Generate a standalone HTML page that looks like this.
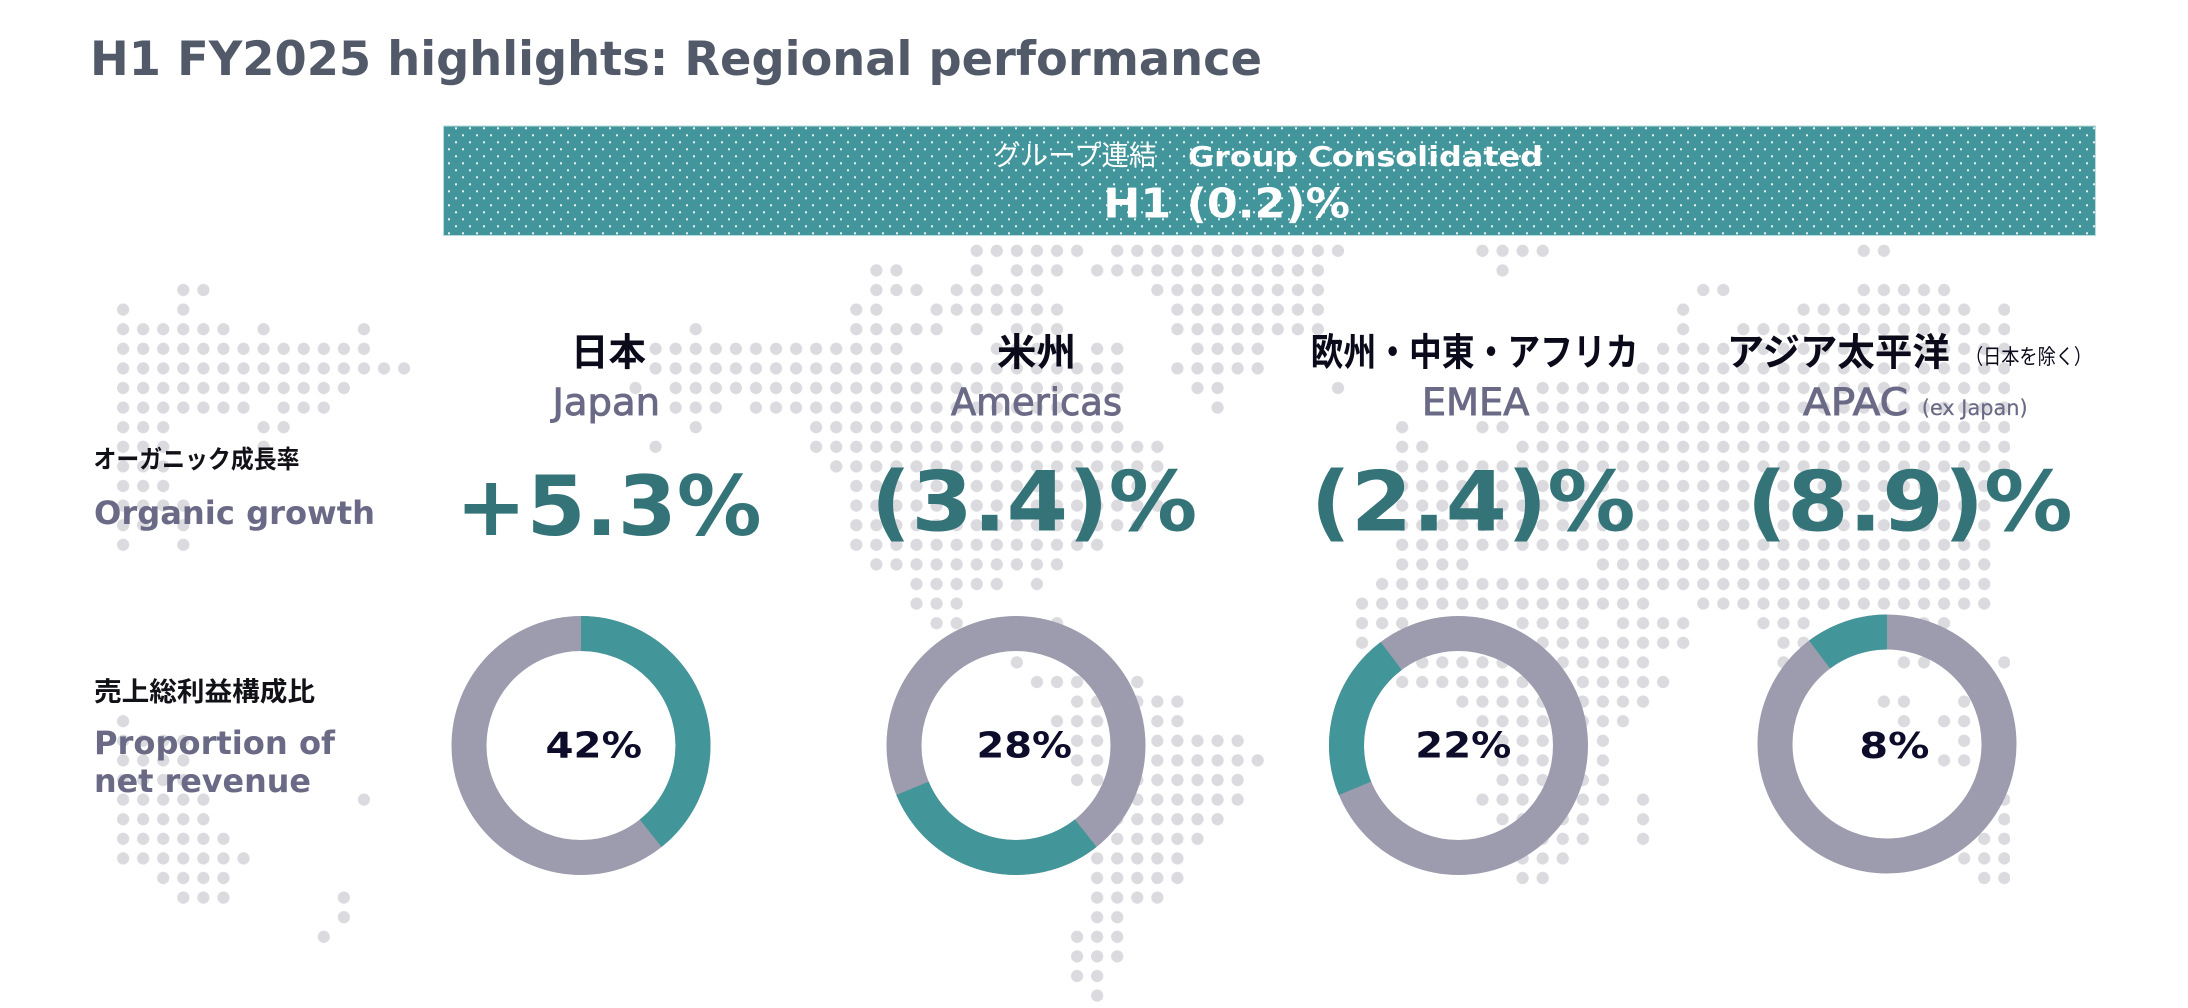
<!DOCTYPE html>
<html>
<head>
<meta charset="utf-8">
<style>
html,body{margin:0;padding:0;background:#ffffff;}
svg{display:block;}
.en{font-family:"DejaVu Sans","Liberation Sans",sans-serif;}
.jp{font-family:"Liberation Sans","Noto Sans CJK JP",sans-serif;}
</style>
</head>
<body>
<svg width="2188" height="1008" viewBox="0 0 2188 1008" xmlns="http://www.w3.org/2000/svg">
<defs>
  <pattern id="dp" patternUnits="userSpaceOnUse" x="-0.5" y="-0.5" width="1" height="1">
    <ellipse cx="0.5" cy="0.5" rx="0.304" ry="0.311" fill="#dadadf"/>
  </pattern>
  <pattern id="bp" patternUnits="userSpaceOnUse" x="455" y="127.3" width="14" height="14">
    <rect x="0" y="0" width="2" height="2" fill="#e8f2f2"/>
    <rect x="7" y="7" width="2" height="2" fill="#e8f2f2"/>
  </pattern>
  <clipPath id="mapclip"><rect x="107.6" y="0" width="1902.4" height="1008"/></clipPath>
</defs>

<rect width="2188" height="1008" fill="#ffffff"/>

<!-- dotted world map -->
<g clip-path="url(#mapclip)">
  <g transform="translate(123.1,290) scale(20.07,19.6)">
    <path fill="url(#dp)" d="M2.5 -0.5h2v1h-2z
M-0.5 0.5h1v1h-1z M2.5 0.5h1v1h-1z
M-0.5 1.5h6v1h-6z M6.5 1.5h1v1h-1z M11.5 1.5h1v1h-1z
M-0.5 2.5h13v1h-13z
M-0.5 3.5h15v1h-15z
M-0.5 4.5h12v1h-12z
M-0.5 5.5h7v1h-7z M7.5 5.5h3v1h-3z
M-0.5 6.5h3v1h-3z M6.5 6.5h2v1h-2z
M-0.5 7.5h3v1h-3z M6.5 7.5h1v1h-1z
M-0.5 8.5h3v1h-3z
M-0.5 9.5h3v1h-3z
M-0.5 10.5h4v1h-4z
M-0.5 11.5h2v1h-2z M2.5 11.5h1v1h-1z
M-0.5 12.5h1v1h-1z M2.5 12.5h1v1h-1z
M-0.5 21.5h1v1h-1z
M-0.5 22.5h4v1h-4z
M-0.5 23.5h4v1h-4z
M-0.5 24.5h4v1h-4z
M-0.5 25.5h5v1h-5z M11.5 25.5h1v1h-1z
M-0.5 26.5h5v1h-5z
M-0.5 27.5h6v1h-6z
M-0.5 28.5h7v1h-7z
M1.5 29.5h4v1h-4z
M2.5 30.5h3v1h-3z M10.5 30.5h1v1h-1z
M10.5 31.5h1v1h-1z
M9.5 32.5h1v1h-1z"/>
  </g>
  <g transform="translate(655.6,290) scale(20.07,19.6)">
    <path fill="url(#dp)" d="M15.5 -2.5h6v1h-6z M22.5 -2.5h12v1h-12z
M10.5 -1.5h2v1h-2z M15.5 -1.5h1v1h-1z M17.5 -1.5h3v1h-3z M21.5 -1.5h12v1h-12z
M10.5 -0.5h3v1h-3z M14.5 -0.5h5v1h-5z M24.5 -0.5h9v1h-9z
M9.5 0.5h2v1h-2z M13.5 0.5h7v1h-7z M25.5 0.5h8v1h-8z
M1.5 1.5h1v1h-1z M9.5 1.5h5v1h-5z M15.5 1.5h1v1h-1z M17.5 1.5h3v1h-3z M25.5 1.5h8v1h-8z
M-0.5 2.5h13v1h-13z M16.5 2.5h4v1h-4z M21.5 2.5h2v1h-2z M26.5 2.5h4v1h-4z
M-0.5 3.5h24v1h-24z M25.5 3.5h5v1h-5z
M-1.5 4.5h1v1h-1z M0.5 4.5h23v1h-23z M26.5 4.5h2v1h-2z M33.5 4.5h1v1h-1z
M0.5 5.5h3v1h-3z M4.5 5.5h16v1h-16z M27.5 5.5h1v1h-1z
M1.5 6.5h1v1h-1z M7.5 6.5h16v1h-16z
M-0.5 7.5h1v1h-1z M7.5 7.5h18v1h-18z
M8.5 8.5h17v1h-17z
M9.5 9.5h16v1h-16z
M9.5 10.5h16v1h-16z
M9.5 11.5h15v1h-15z
M9.5 12.5h13v1h-13z
M10.5 13.5h10v1h-10z
M12.5 14.5h5v1h-5z M18.5 14.5h1v1h-1z
M12.5 15.5h3v1h-3z
M13.5 16.5h2v1h-2z M19.5 16.5h1v1h-1z
M17.5 18.5h1v1h-1z
M18.5 19.5h6v1h-6z
M20.5 20.5h6v1h-6z
M19.5 21.5h7v1h-7z
M20.5 22.5h9v1h-9z
M20.5 23.5h10v1h-10z
M20.5 24.5h9v1h-9z
M22.5 25.5h7v1h-7z
M22.5 26.5h6v1h-6z
M21.5 27.5h6v1h-6z
M21.5 28.5h5v1h-5z
M21.5 29.5h5v1h-5z
M21.5 30.5h4v1h-4z
M21.5 31.5h2v1h-2z
M20.5 32.5h3v1h-3z
M20.5 33.5h3v1h-3z
M20.5 34.5h2v1h-2z
M21.5 35.5h1v1h-1z"/>
  </g>
  <g transform="translate(659.6,290) scale(20.07,19.6)">
    <path fill="url(#dp)" d="M40.5 -2.5h4v1h-4z M59.5 -2.5h2v1h-2z
M41.5 -1.5h1v1h-1z
M51.5 -0.5h2v1h-2z M59.5 -0.5h5v1h-5z
M50.5 0.5h1v1h-1z M56.5 0.5h9v1h-9z M66.5 0.5h1v1h-1z
M50.5 1.5h1v1h-1z M53.5 1.5h14v1h-14z
M49.5 2.5h18v1h-18z
M48.5 3.5h19v1h-19z
M43.5 4.5h24v1h-24z
M43.5 5.5h24v1h-24z
M36.5 6.5h1v1h-1z M40.5 6.5h2v1h-2z M43.5 6.5h24v1h-24z
M36.5 7.5h2v1h-2z M42.5 7.5h25v1h-25z
M36.5 8.5h31v1h-31z
M36.5 9.5h30v1h-30z
M36.5 10.5h30v1h-30z
M36.5 11.5h30v1h-30z
M36.5 12.5h30v1h-30z
M36.5 13.5h4v1h-4z M46.5 13.5h20v1h-20z
M35.5 14.5h31v1h-31z
M34.5 15.5h15v1h-15z M51.5 15.5h15v1h-15z
M34.5 16.5h3v1h-3z M42.5 16.5h4v1h-4z M47.5 16.5h4v1h-4z M54.5 16.5h3v1h-3z M62.5 16.5h2v1h-2z
M34.5 17.5h1v1h-1z M43.5 17.5h8v1h-8z M55.5 17.5h2v1h-2z
M37.5 18.5h6v1h-6z M44.5 18.5h5v1h-5z M55.5 18.5h1v1h-1z M61.5 18.5h2v1h-2z M66.5 18.5h1v1h-1z
M36.5 19.5h7v1h-7z M45.5 19.5h5v1h-5z
M39.5 20.5h5v1h-5z M45.5 20.5h4v1h-4z M60.5 20.5h2v1h-2z M64.5 20.5h1v1h-1z
M40.5 21.5h8v1h-8z M61.5 21.5h1v1h-1z M63.5 21.5h2v1h-2z
M41.5 22.5h4v1h-4z M46.5 22.5h1v1h-1z M64.5 22.5h1v1h-1z
M41.5 23.5h3v1h-3z M46.5 23.5h1v1h-1z M63.5 23.5h2v1h-2z
M41.5 24.5h6v1h-6z
M40.5 25.5h7v1h-7z M48.5 25.5h1v1h-1z M66.5 25.5h1v1h-1z
M41.5 26.5h5v1h-5z M48.5 26.5h1v1h-1z M66.5 26.5h1v1h-1z
M43.5 27.5h3v1h-3z M48.5 27.5h1v1h-1z M65.5 27.5h2v1h-2z
M42.5 28.5h3v1h-3z M64.5 28.5h3v1h-3z
M42.5 29.5h2v1h-2z M65.5 29.5h2v1h-2z"/>
  </g>
</g>

<!-- title -->
<text class="en" x="90" y="75" font-size="47" font-weight="bold" fill="#525a6a" textLength="1172" lengthAdjust="spacingAndGlyphs">H1 FY2025 highlights: Regional performance</text>

<!-- banner -->
<rect x="443" y="125.5" width="1653" height="110.5" fill="#42959a"/>
<rect x="443" y="125.5" width="1653" height="110.5" fill="url(#bp)"/>
<rect x="443.5" y="126" width="1652" height="109.5" fill="none" stroke="#b8dbdb" stroke-width="1"/>
<text class="jp" x="993.3" y="165" font-size="28" font-weight="400" fill="#ffffff" textLength="163" lengthAdjust="spacingAndGlyphs">グループ連結</text>
<text class="en" x="1188" y="166" font-size="28" font-weight="bold" fill="#ffffff" textLength="355" lengthAdjust="spacingAndGlyphs">Group Consolidated</text>
<text class="en" x="1103.3" y="217.3" font-size="41" font-weight="bold" fill="#ffffff" textLength="246.7" lengthAdjust="spacingAndGlyphs">H1 (0.2)%</text>

<!-- donuts -->
<g fill="none" stroke-width="35">
  <circle cx="581" cy="745.5" r="112" stroke="#9c9cae"/>
  <circle cx="581" cy="745.5" r="112" stroke="#429598" stroke-dasharray="276.6 1000" transform="rotate(-90 581 745.5)"/>
  <circle cx="1016" cy="745.5" r="112" stroke="#9c9cae"/>
  <circle cx="1016" cy="745.5" r="112" stroke="#429598" stroke-dasharray="207.2 1000" transform="rotate(51.5 1016 745.5)"/>
  <circle cx="1458.5" cy="745.5" r="112" stroke="#9c9cae"/>
  <circle cx="1458.5" cy="745.5" r="112" stroke="#429598" stroke-dasharray="147.6 1000" transform="rotate(157.5 1458.5 745.5)"/>
  <circle cx="1887" cy="744" r="112" stroke="#9c9cae"/>
  <circle cx="1887" cy="744" r="112" stroke="#429598" stroke-dasharray="72.3 1000" transform="rotate(233 1887 744)"/>
</g>
<g class="en" font-size="36" font-weight="bold" fill="#0d0d2b">
  <text x="545.5" y="757.5" textLength="96.5" lengthAdjust="spacingAndGlyphs">42%</text>
  <text x="976.5" y="757.5" textLength="95.5" lengthAdjust="spacingAndGlyphs">28%</text>
  <text x="1415.3" y="757.5" textLength="96" lengthAdjust="spacingAndGlyphs">22%</text>
  <text x="1859.4" y="758" textLength="70" lengthAdjust="spacingAndGlyphs">8%</text>
</g>

<!-- left labels -->
<text class="jp" x="93.5" y="468" font-size="25" font-weight="700" fill="#111118" textLength="206" lengthAdjust="spacingAndGlyphs">オーガニック成長率</text>
<text class="en" x="94" y="524" font-size="32" font-weight="bold" fill="#6a6a86" textLength="281" lengthAdjust="spacingAndGlyphs">Organic growth</text>
<text class="jp" x="94" y="701" font-size="26.5" font-weight="700" fill="#111118" textLength="221" lengthAdjust="spacingAndGlyphs">売上総利益構成比</text>
<text class="en" x="94" y="754" font-size="32" font-weight="bold" fill="#6a6a86" textLength="241" lengthAdjust="spacingAndGlyphs">Proportion of</text>
<text class="en" x="94" y="792" font-size="32" font-weight="bold" fill="#6a6a86" textLength="217" lengthAdjust="spacingAndGlyphs">net revenue</text>

<!-- region headers -->
<g class="jp" font-size="38" font-weight="700" fill="#0a0a1a">
  <text x="571" y="365.5" textLength="75" lengthAdjust="spacingAndGlyphs">日本</text>
  <text x="997" y="365.5" textLength="79" lengthAdjust="spacingAndGlyphs">米州</text>
  <text x="1310.6" y="365.5" textLength="328" lengthAdjust="spacingAndGlyphs">欧州・中東・アフリカ</text>
  <text x="1726.7" y="365.5" textLength="223" lengthAdjust="spacingAndGlyphs">アジア太平洋</text>
  <text x="1965" y="364" font-size="21" font-weight="400" textLength="127" lengthAdjust="spacingAndGlyphs">（日本を除く）</text>
</g>
<g class="en" font-size="37" fill="#6a6a86" stroke="#6a6a86" stroke-width="0.9">
  <text x="552.5" y="415" textLength="107.5" lengthAdjust="spacingAndGlyphs">Japan</text>
  <text x="951" y="415" textLength="171" lengthAdjust="spacingAndGlyphs">Americas</text>
  <text x="1421.9" y="415" textLength="107.5" lengthAdjust="spacingAndGlyphs">EMEA</text>
  <text x="1803" y="415" textLength="105" lengthAdjust="spacingAndGlyphs">APAC</text>
  <text x="1921.7" y="415" font-size="21" stroke-width="0.2" textLength="106" lengthAdjust="spacingAndGlyphs">(ex Japan)</text>
</g>

<!-- organic growth numbers -->
<g class="en" font-size="83" font-weight="bold" fill="#347479">
  <text x="455.6" y="535" textLength="306" lengthAdjust="spacingAndGlyphs">+5.3%</text>
  <text x="870.8" y="530.5" textLength="326.6" lengthAdjust="spacingAndGlyphs">(3.4)%</text>
  <text x="1310.6" y="530.5" textLength="325" lengthAdjust="spacingAndGlyphs">(2.4)%</text>
  <text x="1746.7" y="530.5" textLength="326" lengthAdjust="spacingAndGlyphs">(8.9)%</text>
</g>
</svg>
</body>
</html>
